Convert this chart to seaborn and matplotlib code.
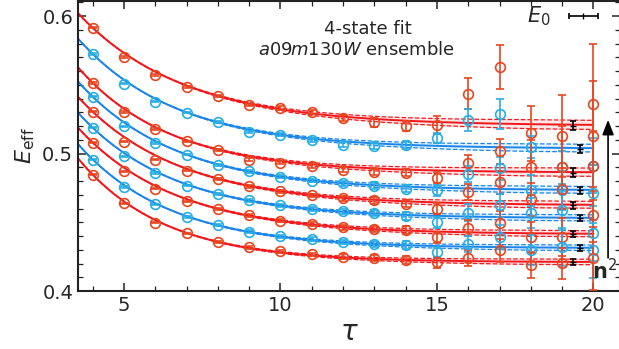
import numpy as np
import pandas as pd
import seaborn as sns
import matplotlib.pyplot as plt
from matplotlib.ticker import MultipleLocator

tau = np.arange(4, 21)

# effective energies, top curve first (r = red set, b = blue set)
e_r1 = [0.5915, 0.5703, 0.5570, 0.5486, 0.5420, 0.5353, 0.5331, 0.5304, 0.5259, 0.5227, 0.5203, 0.5208, 0.5437, 0.5633, 0.5147, 0.5130, 0.5360]
e_b1 = [0.5725, 0.5509, 0.5379, 0.5299, 0.5227, 0.5159, 0.5136, 0.5099, 0.5065, 0.5053, 0.5065, 0.5116, 0.5246, 0.5288, 0.5046, 0.4901, 0.4913]
e_r2 = [0.5514, 0.5304, 0.5179, 0.5089, 0.5029, 0.4957, 0.4933, 0.4908, 0.4884, 0.4865, 0.4862, 0.4826, 0.4930, 0.5017, 0.4901, 0.4899, 0.5130]
e_b2 = [0.5413, 0.5198, 0.5078, 0.4993, 0.4920, 0.4870, 0.4833, 0.4804, 0.4783, 0.4768, 0.4746, 0.4732, 0.4853, 0.4893, 0.4732, 0.4732, 0.4717]
e_r3 = [0.5304, 0.5087, 0.4957, 0.4877, 0.4817, 0.4761, 0.4725, 0.4696, 0.4674, 0.4659, 0.4636, 0.4599, 0.4720, 0.4792, 0.4667, 0.4744, 0.4913]
e_b3 = [0.5188, 0.4980, 0.4860, 0.4768, 0.4708, 0.4659, 0.4623, 0.4598, 0.4580, 0.4565, 0.4546, 0.4502, 0.4570, 0.4623, 0.4570, 0.4587, 0.4422]
e_r4 = [0.5080, 0.4870, 0.4744, 0.4652, 0.4599, 0.4551, 0.4511, 0.4486, 0.4464, 0.4449, 0.4442, 0.4391, 0.4459, 0.4495, 0.4393, 0.4393, 0.4556]
e_b4 = [0.4957, 0.4756, 0.4630, 0.4538, 0.4478, 0.4433, 0.4399, 0.4377, 0.4358, 0.4345, 0.4333, 0.4283, 0.4341, 0.4393, 0.4297, 0.4321, 0.4297]
e_r5 = [0.4848, 0.4638, 0.4498, 0.4420, 0.4357, 0.4317, 0.4288, 0.4267, 0.4251, 0.4239, 0.4225, 0.4208, 0.4241, 0.4297, 0.4188, 0.4201, 0.4237]

err_r1 = [0.0004, 0.0005, 0.0006, 0.0007, 0.0008, 0.0010, 0.0012, 0.0015, 0.0020, 0.0030, 0.0035, 0.0065, 0.0110, 0.0160, 0.0200, 0.0300, 0.0440]
err_b1 = [0.0004, 0.0005, 0.0005, 0.0006, 0.0007, 0.0009, 0.0011, 0.0013, 0.0017, 0.0022, 0.0030, 0.0036, 0.0080, 0.0110, 0.0080, 0.0120, 0.0200]
err_r2 = [0.0004, 0.0005, 0.0005, 0.0006, 0.0007, 0.0009, 0.0011, 0.0013, 0.0017, 0.0022, 0.0028, 0.0040, 0.0060, 0.0090, 0.0200, 0.0300, 0.0400]
err_b2 = [0.0004, 0.0005, 0.0005, 0.0006, 0.0007, 0.0009, 0.0011, 0.0013, 0.0017, 0.0022, 0.0028, 0.0040, 0.0060, 0.0085, 0.0110, 0.0140, 0.0200]
err_r3 = [0.0004, 0.0005, 0.0005, 0.0006, 0.0007, 0.0009, 0.0011, 0.0013, 0.0017, 0.0022, 0.0028, 0.0040, 0.0060, 0.0085, 0.0120, 0.0150, 0.0250]
err_b3 = [0.0004, 0.0005, 0.0005, 0.0006, 0.0007, 0.0009, 0.0011, 0.0013, 0.0017, 0.0022, 0.0028, 0.0040, 0.0060, 0.0085, 0.0110, 0.0140, 0.0200]
err_r4 = [0.0004, 0.0005, 0.0005, 0.0006, 0.0007, 0.0009, 0.0011, 0.0013, 0.0017, 0.0022, 0.0028, 0.0040, 0.0060, 0.0085, 0.0110, 0.0140, 0.0200]
err_b4 = [0.0004, 0.0005, 0.0005, 0.0006, 0.0007, 0.0009, 0.0011, 0.0013, 0.0017, 0.0022, 0.0028, 0.0040, 0.0060, 0.0085, 0.0110, 0.0140, 0.0200]
err_r5 = [0.0004, 0.0005, 0.0005, 0.0006, 0.0007, 0.0009, 0.0011, 0.0013, 0.0017, 0.0022, 0.0028, 0.0040, 0.0060, 0.0085, 0.0090, 0.0110, 0.0230]

# fit: ground-state energy E0 (with error) plus leading excited-state decay
fit_e0 = [0.5203, 0.5036, 0.4862, 0.4732, 0.4623, 0.4529, 0.4413, 0.4312, 0.4210]
fit_e0_err = [0.0033, 0.0028, 0.0030, 0.0025, 0.0025, 0.0022, 0.0022, 0.0020, 0.0020]
fit_amp = [0.2336, 0.2478, 0.2543, 0.2452, 0.2384, 0.2440, 0.2400, 0.2515, 0.2742]
fit_gap = [0.297, 0.320, 0.340, 0.320, 0.313, 0.327, 0.320, 0.340, 0.365]

series = [e_r1, e_b1, e_r2, e_b2, e_r3, e_b3, e_r4, e_b4, e_r5]
errors = [err_r1, err_b1, err_r2, err_b2, err_r3, err_b3, err_r4, err_b4, err_r5]
kinds = ["r", "b", "r", "b", "r", "b", "r", "b", "r"]

line_col = {"r": "#f5161b", "b": "#1a86ec"}
pt_col = {"r": "#e8461f", "b": "#27aee3"}
band_col = {"r": "#f9a0a0", "b": "#9fcdf5"}
e0_tau = {"r": 19.35, "b": 19.57}

sns.set_style("ticks")
plt.rcParams["font.family"] = ["DejaVu Sans"]
plt.rcParams["mathtext.fontset"] = "dejavusans"

fig = plt.figure(figsize=(6.19, 3.49), dpi=100)
ax = fig.add_axes([0.126, 0.166, 0.8756, 0.831])

t_fit = np.linspace(3.5, 20.0, 300)
for k, (vals, errs, kind) in enumerate(zip(series, errors, kinds)):
    fit = fit_e0[k] + fit_amp[k] * np.exp(-fit_gap[k] * t_fit)
    band = fit_e0_err[k] * np.clip((t_fit - 6.0) / 12.0, 0, 1)
    df = pd.DataFrame({"t": t_fit, "fit": fit, "lo": fit - band, "hi": fit + band})
    ax.fill_between(df["t"], df["lo"], df["hi"], color=band_col[kind], alpha=0.25, lw=0, zorder=1)
    sns.lineplot(data=df, x="t", y="fit", color=line_col[kind], lw=1.4, ax=ax, zorder=2)
    sns.lineplot(data=df, x="t", y="lo", color=line_col[kind], lw=0.9, ls="--", ax=ax, zorder=2)
    sns.lineplot(data=df, x="t", y="hi", color=line_col[kind], lw=0.9, ls="--", ax=ax, zorder=2)
    ax.errorbar(tau, vals, yerr=errs, fmt="o", ms=7, mfc="none", mec=pt_col[kind], mew=1.2,
                ecolor=pt_col[kind], elinewidth=1.2, capsize=3, capthick=1.2, zorder=3)
    ax.errorbar([e0_tau[kind]], [fit_e0[k]], yerr=[fit_e0_err[k]], fmt="_", ms=4, color="black",
                elinewidth=1.2, capsize=2.5, capthick=1.2, zorder=4)

# E0 key, top right
ax.errorbar([0.932], [0.948], xerr=[0.027], fmt="|", ms=4, color="black", elinewidth=1.2,
            capsize=2.5, capthick=1.2, transform=ax.transAxes, clip_on=False)
ax.text(0.872, 0.948, "$E_0$", transform=ax.transAxes, ha="right", va="center", fontsize=15)

ax.text(0.535, 0.905, "4-state fit", transform=ax.transAxes, ha="center", va="center", fontsize=13)
ax.text(0.513, 0.83, "$a09m130W$ ensemble", transform=ax.transAxes, ha="center", va="center", fontsize=13)

ax.annotate("", xy=(0.978, 0.60), xytext=(0.978, 0.105), xycoords="axes fraction",
            arrowprops=dict(arrowstyle="-|>,head_width=0.35,head_length=0.9", color="black", lw=1.2))
ax.text(0.948, 0.072, r"$\mathbf{n}^2$", transform=ax.transAxes, ha="left", va="center", fontsize=15)

ax.set_xlim(3.53, 20.85)
ax.set_ylim(0.4, 0.611)
ax.xaxis.set_major_locator(MultipleLocator(5))
ax.xaxis.set_minor_locator(MultipleLocator(1))
ax.yaxis.set_major_locator(MultipleLocator(0.1))
ax.yaxis.set_minor_locator(MultipleLocator(0.01))
ax.tick_params(which="both", direction="in", top=True, right=True, labelsize=14, color="#222222")
ax.tick_params(which="major", length=6, width=1.1)
ax.tick_params(which="minor", length=3.5, width=0.9)
for s in ax.spines.values():
    s.set_linewidth(1.5)
    s.set_color("#222222")

ax.set_xlabel(r"$\tau$", fontsize=20, labelpad=2)
ax.set_ylabel(r"$E_{\rm eff}$", fontsize=16, labelpad=4)

fig.savefig("out.png", dpi=100)
